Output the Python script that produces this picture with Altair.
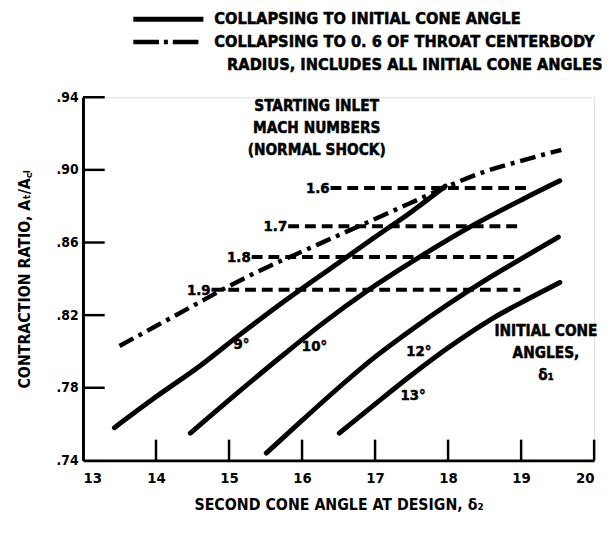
import altair as alt
import pandas as pd

FONT = "DejaVu Sans Condensed"

# ---- data ----
x_ticks = [13, 14, 15, 16, 17, 18, 19, 20]
y_ticks = [0.74, 0.78, 0.82, 0.86, 0.90, 0.94]

cone_angles = ["9°", "10°", "12°", "13°"]
x_9 = [13.43, 14.0, 14.6, 15.14, 15.77, 16.4, 17.0, 17.5, 17.96]
y_9 = [0.758, 0.775, 0.792, 0.809, 0.828, 0.846, 0.863, 0.877, 0.891]
x_10 = [14.47, 15.14, 15.77, 16.3, 16.88, 17.69, 18.32, 19.03, 19.53]
y_10 = [0.755, 0.778, 0.799, 0.816, 0.833, 0.854, 0.869, 0.884, 0.894]
x_12 = [15.51, 16.0, 16.5, 17.0, 17.5, 18.0, 18.5, 19.0, 19.51]
y_12 = [0.744, 0.762, 0.780, 0.797, 0.812, 0.826, 0.839, 0.851, 0.863]
x_13 = [16.51, 17.0, 17.5, 18.0, 18.6, 19.1, 19.53]
y_13 = [0.755, 0.771, 0.787, 0.802, 0.818, 0.829, 0.838]

x_throat = [13.5, 14.0, 14.5, 15.0, 15.5, 16.0, 16.5, 17.0, 17.5, 18.0, 18.5, 19.0, 19.55]
y_throat = [0.803, 0.814, 0.825, 0.836, 0.846, 0.855, 0.864, 0.873, 0.882, 0.891, 0.899, 0.905, 0.911]

mach = ["1.6", "1.7", "1.8", "1.9"]
mach_level = [0.890, 0.869, 0.852, 0.834]
mach_start = [16.39, 15.81, 15.31, 14.76]
mach_end = [19.08, 18.97, 18.94, 18.99]

cone_label_x = [15.17, 16.17, 17.60, 17.52]
cone_label_y = [0.804, 0.803, 0.800, 0.776]

legend_labels = ["COLLAPSING TO INITIAL CONE ANGLE",
                 "COLLAPSING TO 0. 6 OF THROAT CENTERBODY",
                 "RADIUS, INCLUDES ALL INITIAL CONE ANGLES"]

# ---- tables ----
rows = []
for name, xs, ys in zip(cone_angles, [x_9, x_10, x_12, x_13], [y_9, y_10, y_12, y_13]):
    for i, (a, b) in enumerate(zip(xs, ys)):
        rows.append({"cone": name, "x": a, "y": b, "i": i})
solid_df = pd.DataFrame(rows)
throat_df = pd.DataFrame({"x": x_throat, "y": y_throat, "i": range(len(x_throat))})
mach_df = pd.DataFrame({"mach": mach, "level": mach_level, "x0": mach_start, "x1": mach_end})
cone_lab_df = pd.DataFrame({"t": cone_angles, "x": cone_label_x, "y": cone_label_y})
xt_df = pd.DataFrame({"v": x_ticks[1:]})
yt_df = pd.DataFrame({"v": y_ticks[1:]})
notes_df = pd.DataFrame({
    "t": ["STARTING INLET\nMACH NUMBERS\n(NORMAL SHOCK)", "INITIAL CONE\nANGLES,\nδ₁"],
    "x": [16.2, 19.34],
    "y": [0.935, 0.811],
})
one = pd.DataFrame({"k": [0]})

xs = alt.Scale(domain=[13, 20], nice=False, zero=False)
ys = alt.Scale(domain=[0.74, 0.94], nice=False, zero=False)

X = alt.X("x:Q", scale=xs, axis=alt.Axis(
    values=x_ticks, tickSize=0, labelPadding=10, labelFont=FONT, labelFontWeight="bold",
    labelFontSize=15, labelColor="black", domainColor="black", domainWidth=3, grid=False,
    title="SECOND CONE ANGLE AT DESIGN, δ₂", titleFont=FONT, titleFontWeight="bold",
    titleFontSize=16, titleColor="black", titlePadding=12, format="d"))
Y = alt.Y("y:Q", scale=ys, axis=alt.Axis(
    values=y_ticks, tickSize=0, labelPadding=5, labelFont=FONT, labelFontWeight="bold",
    labelFontSize=14, labelColor="black", domainColor="black", domainWidth=3, grid=False,
    labelExpr="replace(format(datum.value, '.2f'), '0.', '.')",
    title="CONTRACTION RATIO, Aₜ/A꜀ₗ", titleFont=FONT, titleFontWeight="bold",
    titleFontSize=16, titleColor="black", titlePadding=24))

TXT = dict(font=FONT, fontWeight="bold", color="black", stroke="black", strokeWidth=0.5)

solid = alt.Chart(solid_df).mark_line(
    color="black", strokeWidth=5, strokeCap="round", interpolate="monotone").encode(
    x=X, y=Y, detail="cone:N", order="i:Q")

throat = alt.Chart(throat_df).mark_line(
    color="black", strokeWidth=4.5, strokeDash=[16, 6, 4, 6], interpolate="monotone").encode(
    x=alt.X("x:Q", scale=xs), y=alt.Y("y:Q", scale=ys), order="i:Q")

mach_lines = alt.Chart(mach_df).mark_rule(color="black", strokeWidth=4, strokeDash=[11, 6]).encode(
    x=alt.X("x0:Q", scale=xs), x2="x1:Q", y=alt.Y("level:Q", scale=ys))

mach_text = alt.Chart(mach_df).mark_text(
    align="right", baseline="middle", dx=-1, fontSize=15, **TXT).encode(
    x=alt.X("x0:Q", scale=xs), y=alt.Y("level:Q", scale=ys), text="mach:N")

cone_text = alt.Chart(cone_lab_df).mark_text(
    align="center", baseline="middle", fontSize=15, **TXT).encode(
    x=alt.X("x:Q", scale=xs), y=alt.Y("y:Q", scale=ys), text="t:N")

notes = alt.Chart(notes_df).mark_text(
    align="center", baseline="middle", lineBreak="\n", lineHeight=22, fontSize=15.5, **TXT).encode(
    x=alt.X("x:Q", scale=xs), y=alt.Y("y:Q", scale=ys), text="t:N")

xtick = alt.Chart(xt_df).mark_rule(color="black", strokeWidth=2.5).encode(
    x=alt.X("v:Q", scale=xs), y=alt.value(368), y2=alt.value(347))
ytick = alt.Chart(yt_df).mark_rule(color="black", strokeWidth=2.5).encode(
    y=alt.Y("v:Q", scale=ys), x=alt.value(0), x2=alt.value(22))

leg_solid = alt.Chart(one).mark_rule(color="black", strokeWidth=5).encode(
    x=alt.value(51), x2=alt.value(122), y=alt.value(-79))
leg_dd = alt.Chart(one).mark_rule(color="black", strokeWidth=4.5, strokeDash=[26, 5, 4, 5]).encode(
    x=alt.value(51), x2=alt.value(122), y=alt.value(-56))
leg_t1 = alt.Chart(one).mark_text(align="left", baseline="middle", fontSize=16.5, **TXT).encode(
    x=alt.value(133), y=alt.value(-79), text=alt.value(legend_labels[0]))
leg_t2 = alt.Chart(one).mark_text(align="left", baseline="middle", fontSize=16.5, **TXT).encode(
    x=alt.value(133), y=alt.value(-56), text=alt.value(legend_labels[1]))
leg_t3 = alt.Chart(one).mark_text(align="left", baseline="middle", fontSize=16.5, **TXT).encode(
    x=alt.value(146), y=alt.value(-33), text=alt.value(legend_labels[2]))

chart = alt.layer(
    solid, throat, mach_lines, mach_text, cone_text, notes, xtick, ytick,
    leg_solid, leg_dd, leg_t1, leg_t2, leg_t3,
).properties(
    width=518, height=368,
    autosize=alt.AutoSizeParams(type="none"),
    padding={"left": 76, "top": 87, "right": 10, "bottom": 60},
).configure_view(stroke=None).configure(background="white")

chart.save("out.html", embed_options={"renderer": "svg", "actions": False})
